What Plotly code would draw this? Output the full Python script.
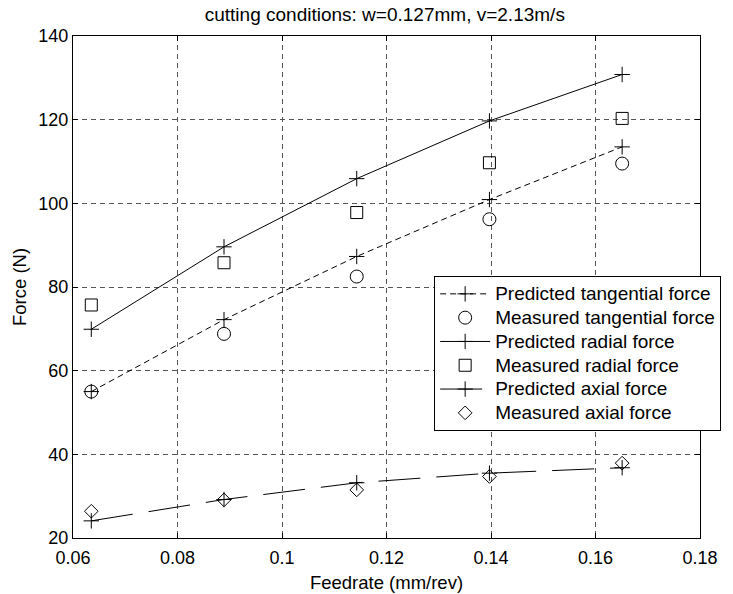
import plotly.graph_objects as go

feedrate = [0.0635, 0.0889, 0.1143, 0.1397, 0.1651]

pred_tangential = [55.0, 72.2, 87.3, 100.9, 113.5]
meas_tangential = [55.0, 68.8, 82.5, 96.2, 109.5]
pred_radial = [69.9, 89.6, 105.9, 119.7, 130.8]
meas_radial = [75.7, 85.8, 97.8, 109.7, 120.3]
pred_axial = [24.1, 29.2, 33.2, 35.5, 36.8]
meas_axial = [26.4, 29.1, 31.5, 34.7, 37.9]

x_ticks = [0.06, 0.08, 0.1, 0.12, 0.14, 0.16, 0.18]
x_tick_text = ["0.06", "0.08", "0.1", "0.12", "0.14", "0.16", "0.18"]
y_ticks = [20, 40, 60, 80, 100, 120, 140]

FONT = "Liberation Sans, Arial, sans-serif"
BLK = "black"

fig = go.Figure()

def lg(name):
    return '<span style="font-size:19px">' + name + '</span>'

def pred(name, y, dash):
    fig.add_trace(go.Scatter(
        x=feedrate, y=y, name=lg(name), mode="lines+markers",
        line=dict(color=BLK, width=1, dash=dash),
        marker=dict(symbol="cross-thin", size=11, color=BLK, line=dict(color=BLK, width=1)),
    ))

def meas(name, y, sym, size):
    fig.add_trace(go.Scatter(
        x=feedrate, y=y, name=lg(name), mode="markers",
        marker=dict(symbol=sym, size=size, color=BLK, line=dict(color=BLK, width=1)),
    ))

pred("Predicted tangential force", pred_tangential, "6px,4px")
meas("Measured tangential force", meas_tangential, "circle-open", 13)
pred("Predicted radial force", pred_radial, "solid")
meas("Measured radial force", meas_radial, "square-open", 12)
pred("Predicted axial force", pred_axial, "42px,16px")
meas("Measured axial force", meas_axial, "diamond-open", 10.5)

axis_common = dict(
    showline=True, linecolor=BLK, linewidth=1, mirror="ticks",
    ticks="inside", ticklen=5, tickcolor=BLK,
    showgrid=True, gridcolor="#555555", gridwidth=1, griddash="5px,4px",
    zeroline=False, automargin=False,
    tickfont=dict(family=FONT, size=18, color=BLK),
)

fig.update_layout(
    width=733, height=594,
    margin=dict(l=73, r=21, t=36, b=56),
    paper_bgcolor="white", plot_bgcolor="white",
    font=dict(family=FONT, color=BLK, size=18),
    title=dict(text="cutting conditions: w=0.127mm, v=2.13m/s", x=0.525, xanchor="center",
               y=0.976, yanchor="middle", font=dict(family=FONT, size=19, color=BLK)),
    xaxis=dict(range=[0.06, 0.18], tickvals=x_ticks, ticktext=x_tick_text,
               title=dict(text="Feedrate (mm/rev)", standoff=9, font=dict(family=FONT, size=18.5)),
               ticklabelstandoff=3,
               **axis_common),
    yaxis=dict(range=[20, 140], tickvals=y_ticks,
               title=dict(text="Force (N)", standoff=6, font=dict(family=FONT, size=18.5)),
               **axis_common),
    legend=dict(x=0.576, y=0.522, xanchor="left", yanchor="top",
                bgcolor="white", bordercolor=BLK, borderwidth=1,
                font=dict(family=FONT, size=16, color=BLK),
                tracegroupgap=0, itemwidth=50),
    showlegend=True,
)

fig.write_html("out.html", config={"displayModeBar": False},
               post_script="document.body.style.margin='0';")
